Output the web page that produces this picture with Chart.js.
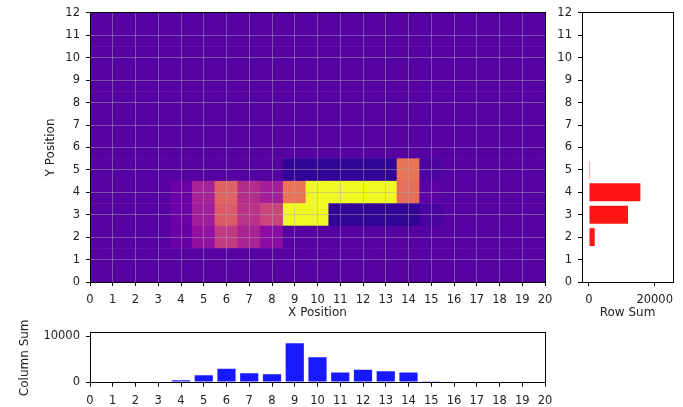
<!DOCTYPE html>
<html>
<head>
<meta charset="utf-8">
<script src="https://cdn.jsdelivr.net/npm/chart.js"></script>
<style>
    body { margin: 0; background: #fff; width: 683px; height: 407px; position: relative; overflow: hidden; }
    canvas { position: absolute; }
</style>
</head>
<body>
<canvas id="heat" width="560" height="325" style="left:0;top:0"></canvas>
<canvas id="rows" width="143" height="325" style="left:540px;top:0"></canvas>
<canvas id="cols" width="560" height="87" style="left:0;top:320px"></canvas>
<script>
// grid positions
const xPositions = [0, 1, 2, 3, 4, 5, 6, 7, 8, 9, 10, 11, 12, 13, 14, 15, 16, 17, 18, 19, 20];
const yPositions = [0, 1, 2, 3, 4, 5, 6, 7, 8, 9, 10, 11, 12];

// cell values, one row per y position (y = 0 first)
const row0  = [0, 0, 0, 0, 0, 0, 0, 0, 0, 0, 0, 0, 0, 0, 0, 0, 0, 0, 0, 0, 0];
const row1  = [0, 0, 0, 0, 0, 0, 0, 0, 0, 0, 0, 0, 0, 0, 0, 0, 0, 0, 0, 0, 0];
const row2  = [0, 0, 0, 0, 110, 400, 770, 560, 340, 0, 0, 0, 0, 0, 0, 0, 0, 0, 0, 0, 0];
const row3  = [0, 0, 0, 0, 130, 500, 1050, 700, 850, 7520, 2800, -200, -200, -200, -200, -80, 0, 0, 0, 0, 0];
const row4  = [0, 0, 0, 0, 120, 550, 1100, 650, 520, 1250, 2800, 2450, 3070, 2730, 1200, 40, 0, 0, 0, 0, 0];
const row5  = [0, 0, 0, 0, 0, 0, 0, 0, 0, -200, -200, -200, -200, -200, 1250, -60, 0, 0, 0, 0, 0];
const row6  = [0, 0, 0, 0, 0, 0, 0, 0, 0, 0, 0, 0, 0, 0, 0, 0, 0, 0, 0, 0, 0];
const row7  = [0, 0, 0, 0, 0, 0, 0, 0, 0, 0, 0, 0, 0, 0, 0, 0, 0, 0, 0, 0, 0];
const row8  = [0, 0, 0, 0, 0, 0, 0, 0, 0, 0, 0, 0, 0, 0, 0, 0, 0, 0, 0, 0, 0];
const row9  = [0, 0, 0, 0, 0, 0, 0, 0, 0, 0, 0, 0, 0, 0, 0, 0, 0, 0, 0, 0, 0];
const row10 = [0, 0, 0, 0, 0, 0, 0, 0, 0, 0, 0, 0, 0, 0, 0, 0, 0, 0, 0, 0, 0];
const row11 = [0, 0, 0, 0, 0, 0, 0, 0, 0, 0, 0, 0, 0, 0, 0, 0, 0, 0, 0, 0, 0];
const row12 = [0, 0, 0, 0, 0, 0, 0, 0, 0, 0, 0, 0, 0, 0, 0, 0, 0, 0, 0, 0, 0];
const heatRows = [row0, row1, row2, row3, row4, row5, row6, row7, row8, row9, row10, row11, row12];

const rowSums = [0, 0, 1735, 11870, 15640, 260, 0, 0, 0, 0, 0, 0, 0];
const colSums = [0, 0, 0, 0, 410, 1500, 2870, 1910, 1710, 8420, 5400, 2050, 2670, 2330, 2050, 200, 0, 0, 0, 0, 0];

const rowSumTicks = [0, 20000];
const colSumTicks = [0, 10000];

// colour scale limits
const VMIN = -380, VMAX = 2120;

const plasmaStops = ['#0d0887', '#41049d', '#6a00a8', '#8f0da4', '#b12a90', '#cc4778',
                     '#e16462', '#f2844b', '#fca636', '#fcce25', '#f0f921'];

function hexRgb(h) {
    return [parseInt(h.slice(1, 3), 16), parseInt(h.slice(3, 5), 16), parseInt(h.slice(5, 7), 16)];
}

function plasma(v) {
    let t = (v - VMIN) / (VMAX - VMIN);
    t = Math.max(0, Math.min(1, t));
    const f = t * 10;
    const i = Math.min(9, Math.floor(f));
    const u = f - i;
    const a = hexRgb(plasmaStops[i]), b = hexRgb(plasmaStops[i + 1]);
    const c = a.map((x, k) => Math.round(x + (b[k] - x) * u));
    return 'rgb(' + c.join(',') + ')';
}

Chart.defaults.font.family = "'DejaVu Sans', sans-serif";
Chart.defaults.font.size = 11.5;
Chart.defaults.color = '#222';

// box around the plot area
const frame = {
    id: 'frame',
    afterDraw(chart) {
        const a = chart.chartArea, ctx = chart.ctx;
        const al = v => Math.round(v + 0.5) - 0.5;
        ctx.save();
        ctx.strokeStyle = '#000';
        ctx.lineWidth = 1;
        ctx.strokeRect(al(a.left), al(a.top), al(a.right) - al(a.left), al(a.bottom) - al(a.top));
        ctx.restore();
    }
};

const titleFont = { size: 12 };
const heatGrid = 'rgba(170,170,170,0.45)';

new Chart(document.getElementById('heat'), {
    type: 'bar',
    data: {
        datasets: heatRows.map((row, j) => ({
            data: row.map((v, i) => ({ x: xPositions[i], y: [yPositions[j] - 0.51, yPositions[j] + 0.51] })),
            backgroundColor: row.map(plasma),
            borderWidth: 0,
            barPercentage: 1.04,
            categoryPercentage: 1,
            grouped: false
        }))
    },
    options: {
        responsive: false,
        animation: false,
        layout: { padding: { top: 10, right: 15, left: 0, bottom: 0 } },
        plugins: { legend: { display: false }, tooltip: { enabled: false } },
        scales: {
            x: {
                type: 'linear', min: 0, max: 20, offset: false,
                grid: { offset: false, z: 1, color: heatGrid, tickColor: '#000', tickLength: 4 },
                border: { color: '#000', z: 1 },
                ticks: { stepSize: 1, autoSkip: false, maxRotation: 0, padding: 7 },
                title: { display: true, text: 'X Position', font: titleFont, color: '#222', padding: { top: 0, bottom: 5 } },
                afterFit: s => { s.height = 43; }
            },
            y: {
                type: 'linear', min: 0, max: 12,
                grid: { z: 1, color: heatGrid, tickColor: '#000', tickLength: 4 },
                border: { color: '#000', z: 1 },
                ticks: { stepSize: 1, autoSkip: false, padding: 6 },
                title: { display: true, text: 'Y Position', font: titleFont, color: '#222', padding: { top: 44, bottom: 0 } },
                afterFit: s => { s.width = 90; }
            }
        }
    },
    plugins: [frame]
});

new Chart(document.getElementById('rows'), {
    type: 'bar',
    data: {
        datasets: [{
            data: rowSums.map((v, j) => ({ x: v, y: yPositions[j] })),
            backgroundColor: 'rgba(255,0,0,0.92)',
            borderWidth: 0,
            barPercentage: 0.8,
            categoryPercentage: 1
        }]
    },
    options: {
        indexAxis: 'y',
        responsive: false,
        animation: false,
        layout: { padding: { top: 10, right: 10, left: 0, bottom: 0 } },
        plugins: { legend: { display: false }, tooltip: { enabled: false } },
        scales: {
            x: {
                type: 'linear', min: -2130, max: 25570,
                grid: { drawOnChartArea: false, tickColor: '#000', tickLength: 4 },
                border: { color: '#000' },
                afterBuildTicks: s => { s.ticks = rowSumTicks.map(v => ({ value: v })); },
                ticks: { maxRotation: 0, padding: 7, callback: v => String(v) },
                title: { display: true, text: 'Row Sum', font: titleFont, color: '#222', padding: { top: 0, bottom: 5 } },
                afterFit: s => { s.height = 43; }
            },
            y: {
                type: 'linear', min: 0, max: 12, offset: false,
                grid: { offset: false, drawOnChartArea: false, tickColor: '#000', tickLength: 4 },
                border: { color: '#000' },
                ticks: { stepSize: 1, autoSkip: false, padding: 6 },
                afterFit: s => { s.width = 42; }
            }
        }
    },
    plugins: [frame]
});

new Chart(document.getElementById('cols'), {
    type: 'bar',
    data: {
        datasets: [{
            data: colSums.map((v, i) => ({ x: xPositions[i], y: v })),
            backgroundColor: 'rgba(0,0,255,0.9)',
            borderWidth: 0,
            barPercentage: 0.8,
            categoryPercentage: 1
        }]
    },
    options: {
        responsive: false,
        animation: false,
        layout: { padding: { top: 10, right: 15, left: 0, bottom: 0 } },
        plugins: { legend: { display: false }, tooltip: { enabled: false } },
        scales: {
            x: {
                type: 'linear', min: 0, max: 20, offset: false,
                grid: { offset: false, drawOnChartArea: false, tickColor: '#000', tickLength: 4 },
                border: { color: '#000' },
                ticks: { stepSize: 1, autoSkip: false, maxRotation: 0, padding: 7 },
                afterFit: s => { s.height = 24.3; }
            },
            y: {
                type: 'linear', min: -140, max: 10680,
                grid: { drawOnChartArea: false, tickColor: '#000', tickLength: 4 },
                border: { color: '#000' },
                afterBuildTicks: s => { s.ticks = colSumTicks.map(v => ({ value: v })); },
                ticks: { padding: 6, callback: v => String(v) },
                title: { display: true, text: 'Column Sum', font: titleFont, color: '#222', padding: { top: 18, bottom: 0 } },
                afterFit: s => { s.width = 90; }
            }
        }
    },
    plugins: [frame]
});
</script>
</body>
</html>
